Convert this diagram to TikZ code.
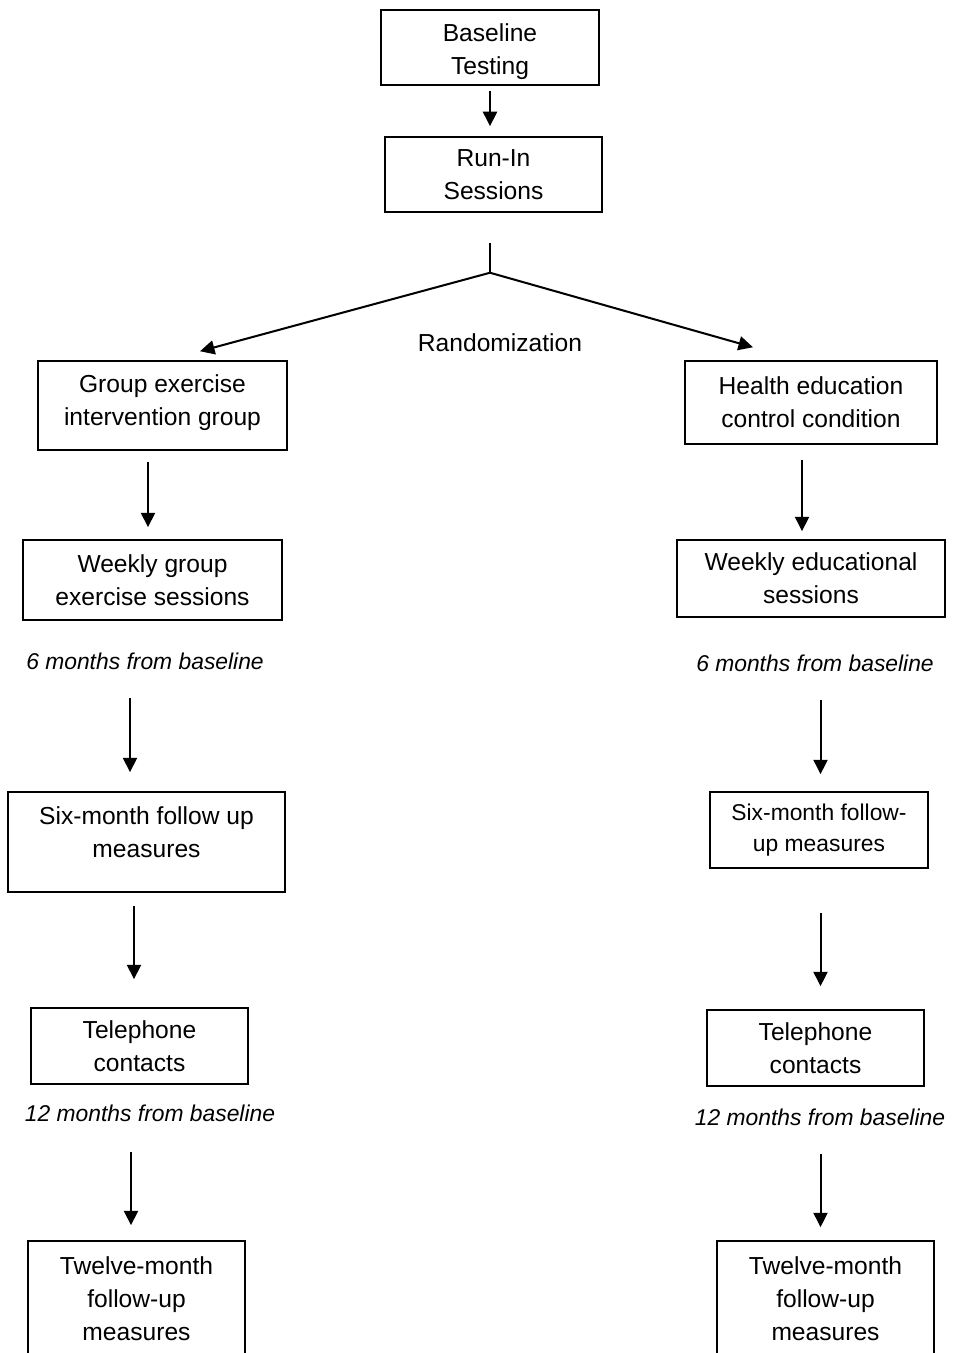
\documentclass[tikz,border=0pt]{standalone}
\usepackage{fontspec}
\setmainfont{Liberation Sans}
\usetikzlibrary{
  arrows.meta,
  positioning,
  calc,
}
\tikzset{
  stepbox/.style={
    rectangle, draw=black, line width=0.85pt, inner sep=2pt,
    align=center, font=\fontsize{14}{18.8}\selectfont,
  },
  stepboxSmall/.style={
    stepbox, font=\fontsize{13}{17.6}\selectfont,
  },
  note/.style={
    inner sep=1pt, font=\fontsize{13}{15.6}\selectfont\itshape,
  },
  plain/.style={
    inner sep=1pt, font=\fontsize{14}{16.8}\selectfont,
  },
  flow/.style={
    -{Triangle[length=2.9mm,width=2.8mm]}, line width=1.15pt, draw=black,
  },
  splitline/.style={
    line width=1.15pt, draw=black,
  },
}

\begin{document}
\begin{tikzpicture}[x=0.2mm, y=-0.2mm]

\useasboundingbox (0,0) rectangle (952,1353);

% top of the trial
\node[stepbox, minimum width=43.6mm, minimum height=15mm] (base) at (490,47.5)
  {\rule{0pt}{14.8pt}Baseline\\Testing};
\node[stepbox, minimum width=43.4mm, minimum height=15mm] (runin) at (493.5,174.5)
  {Run-In\\Sessions};
\node[plain] (rand) at (500,343) {Randomization};

% exercise arm
\node[stepbox, minimum width=49.8mm, minimum height=17.8mm] (grp) at (162.5,405.5)
  {Group exercise\\intervention group\rule[-6.3pt]{0pt}{0pt}};
\node[stepbox, minimum width=51.8mm, minimum height=16mm] (wgrp) at (152.5,580)
  {Weekly group\\exercise sessions};
\node[note] (sixmoL) at (145,661) {6 months from baseline};
\node[stepbox, minimum width=55.4mm, minimum height=20mm] (sixL) at (146.5,842)
  {Six-month follow up\\measures\rule[-11.4pt]{0pt}{0pt}};
\node[stepbox, minimum width=43.4mm, minimum height=15.2mm] (telL) at (139.5,1046)
  {Telephone\\contacts};
\node[note] (twelvemoL) at (150,1113) {12 months from baseline};
\node[stepbox, minimum width=43.4mm, minimum height=23mm] (twelveL) at (136.5,1298.5)
  {Twelve-month\\follow-up\\measures};

% education arm
\node[stepbox, minimum width=50.4mm, minimum height=16.6mm] (hed) at (811,402.5)
  {Health education\\control condition};
\node[stepbox, minimum width=53.6mm, minimum height=15.4mm] (wedu) at (811,578.5)
  {Weekly educational\\sessions};
\node[note] (sixmoR) at (815,663) {6 months from baseline};
\node[stepboxSmall, minimum width=43.6mm, minimum height=15.2mm] (sixR) at (819,830)
  {Six-month follow-\\up measures};
\node[stepbox, minimum width=43.4mm, minimum height=15.2mm] (telR) at (815.5,1048)
  {Telephone\\contacts};
\node[note] (twelvemoR) at (820,1117) {12 months from baseline};
\node[stepbox, minimum width=43.4mm, minimum height=23mm] (twelveR) at (825.5,1298.5)
  {Twelve-month\\follow-up\\measures};

% randomization split
\coordinate (split) at ($(runin.south)+(-3.5,60)$);
\draw[flow] ($(base.south)+(0,5)$) -- ($(runin.north)+(-3.5,-10)$);
\draw[splitline] ($(runin.south)+(-3.5,30)$) -- (split);
\draw[flow] (split) -- ($(grp.north)+(37.5,-9)$);
\draw[flow] (split) -- ($(hed.north)+(-58,-13)$);

% left column
\draw[flow] ($(grp.south)+(-14.5,11)$) -- ($(wgrp.north)+(-4.5,-12)$);
\draw[flow] ($(sixmoL)+(-15,37)$) -- ($(sixL.north)+(-16.5,-19)$);
\draw[flow] ($(sixL.south)+(-12.5,13)$) -- ($(telL.north)+(-5.5,-28)$);
\draw[flow] ($(twelvemoL)+(-19,39)$) -- ($(twelveL.north)+(-5.5,-15)$);

% right column
\draw[flow] ($(hed.south)+(-9,15)$) -- ($(wedu.north)+(-9,-8)$);
\draw[flow] ($(sixmoR)+(5.5,37)$) -- ($(sixR.north)+(1.5,-17)$);
\draw[flow] ($(sixR.south)+(1.5,44)$) -- ($(telR.north)+(5,-23)$);
\draw[flow] ($(twelvemoR)+(0.5,37)$) -- ($(twelveR.north)+(-5,-13)$);

\end{tikzpicture}
\end{document}
